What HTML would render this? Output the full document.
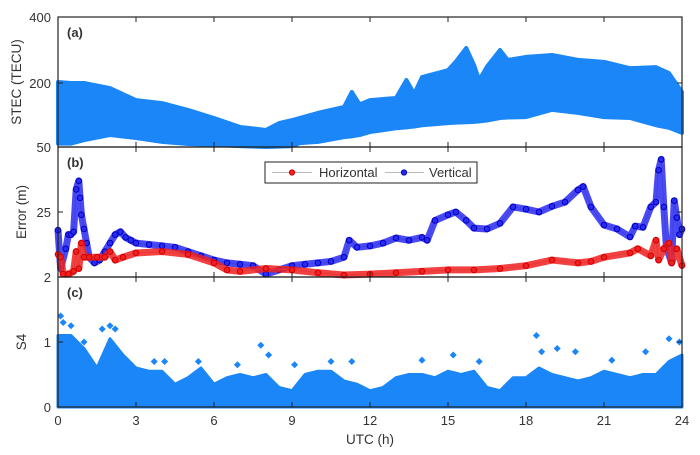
<!DOCTYPE html>
<html><head><meta charset="utf-8"><style>
html,body{margin:0;padding:0;background:#fff;width:700px;height:455px;overflow:hidden}
text{font-family:"Liberation Sans",sans-serif;fill:#333}
</style></head><body>
<svg id="chart" width="700" height="455" viewBox="0 0 700 455" xmlns="http://www.w3.org/2000/svg">
<g id="pa"></g>
<g id="pb"></g>
<g id="pc"></g>
<g id="ax"></g>
</svg>
<script>
// ---- data ----
const xTicks=[0,3,6,9,12,15,18,21,24];
// STEC envelope (TECU)
const stecT=[0,0.5,1,2,3,4,5,6,7,8,8.5,9,9.3,10,11,11.3,11.6,12,13,13.4,13.7,14,15,15.3,15.7,16,16.2,16.5,17,17.3,18,19,20,21,22,23,23.5,24];
const stecTop=[203,200,200,188,160,153,137,118,97,90,106,113,118,130,144,179,150,160,165,209,175,218,239,265,306,255,209,250,300,270,279,285,270,264,245,248,230,179];
const stecBot=[58,58,66,78,71,62,57,55,52,50,51,52,59,62,73,75,78,85,94,96,98,101,106,107,108,109,110,112,118,119,120,137,130,120,118,101,95,83];
// Error (m)
const vT=[0,0.1,0.3,0.4,0.5,0.6,0.7,0.8,0.85,0.9,1.0,1.1,1.2,1.4,1.6,1.8,2.0,2.2,2.4,2.6,2.8,3,3.5,4,4.5,5,5.5,6,6.5,7,7.5,8,8.5,9,9.5,10,10.5,11,11.2,11.5,12,12.5,13,13.5,14,14.2,14.5,15,15.3,15.7,16,16.5,17,17.5,18,18.5,19,19.5,20,20.2,20.5,21,21.5,22,22.2,22.5,22.8,23,23.1,23.2,23.3,23.4,23.6,23.7,23.8,23.9,24];
const vVal=[18.6,5,12,17,17,18,33,36,30,24,19,14,9,7,8,11,14,17,18,16,15,14,13.5,13,12.5,11,9.5,8,7,6.5,6,3,4.5,6,6.5,7,7.5,9,15,12.5,13,14,15.8,15,16,15,22,24,25,22,19.3,19,21,26.8,26,25,27,28.5,32.8,34,26.8,20.4,19,16.2,20,19.6,26.8,28.5,39.8,43.6,26.8,12.6,7,29,23,17,19];
const hT=[0,0.1,0.2,0.4,0.6,0.7,0.8,0.9,1.0,1.2,1.5,1.8,2.0,2.2,2.5,3,4,5,6,6.5,7,8,9,10,11,12,13,14,15,16,17,18,19,20,20.5,21,22,22.3,22.8,23,23.1,23.3,23.5,23.6,23.8,24];
const hVal=[10,9,3,3,4,11,5,14,9,9,9,9,11,8,9,10.5,11,10,7,4.5,4,5,4.5,3.5,2.7,3,3.5,4,4.5,4.5,5,6,8,7,7.5,9,10.5,12,9.5,15,8,12,14,7,12,6];
// S4
const s4T=[0,0.5,1,1.5,2,2.5,3,3.5,4,4.5,5,5.5,6,6.5,7,7.5,8,8.5,9,9.5,10,10.5,11,11.5,12,12.5,13,13.5,14,14.5,15,15.5,16,16.5,17,17.5,18,18.5,19,19.5,20,20.5,21,21.5,22,22.5,23,23.5,24];
const s4Env=[1.1,1.1,0.9,0.6,1.05,0.8,0.6,0.55,0.55,0.35,0.45,0.6,0.35,0.45,0.5,0.45,0.5,0.3,0.25,0.5,0.55,0.55,0.4,0.35,0.25,0.3,0.45,0.5,0.5,0.45,0.55,0.5,0.55,0.3,0.25,0.45,0.45,0.6,0.5,0.45,0.4,0.45,0.55,0.5,0.45,0.5,0.5,0.7,0.8];
const spikeT=[0.1,0.2,0.5,1.0,1.7,2.0,2.2,3.7,4.1,5.4,6.9,7.8,8.1,9.1,10.5,11.3,14.0,15.2,16.2,18.4,18.6,19.2,19.9,21.3,22.6,23.5,23.9];
const spikeV=[1.4,1.3,1.25,1.0,1.2,1.25,1.2,0.7,0.7,0.7,0.65,0.95,0.8,0.65,0.7,0.7,0.72,0.8,0.7,1.1,0.85,0.9,0.85,0.72,0.85,1.05,1.0];

// ---- scales ----
const X0=58,X1=682;
const x=t=>X0+(X1-X0)*t/24;
const yA=v=>v<=200?147-(v-50)*64/150:83-(v-200)*66/200;
const yB=v=>277-(v-2)/46*130;
const yC=v=>407-v/2*130;
const NS='http://www.w3.org/2000/svg';
function mk(tag,attrs,parent){const e=document.createElementNS(NS,tag);for(const k in attrs)e.setAttribute(k,attrs[k]);parent.appendChild(e);return e;}
const BLUE='#1a86f8';
const pa=document.getElementById('pa'),pb=document.getElementById('pb'),pc=document.getElementById('pc'),ax=document.getElementById('ax');

// panel a
let pts=stecT.map((t,i)=>x(t)+','+yA(stecTop[i]));
for(let i=stecT.length-1;i>=0;i--)pts.push(x(stecT[i])+','+yA(stecBot[i]));
let a=mk('polygon',{points:pts.join(' '),fill:BLUE,stroke:BLUE,'stroke-width':4,'stroke-linejoin':'round'},pa);



// panel b
function series(T,V,fill,stroke,name){
  const g=mk('g',{},pb);
  
  
  const p=T.map((t,i)=>x(t)+','+yB(V[i])).join(' ');
  mk('polyline',{points:p,fill:'none',stroke:'#bbb','stroke-width':1},g);
  mk('polyline',{points:p,fill:'none',stroke:fill,'stroke-width':7,'stroke-linejoin':'round','stroke-opacity':0.85},g);
  T.forEach((t,i)=>{const c=mk('circle',{cx:x(t),cy:yB(V[i]),r:2.8,fill:fill,stroke:stroke,'stroke-width':1},g);
    
    });
}
series(vT,vVal,'#2a2af0','#0000c0','vertical-series');
series(hT,hVal,'#f02020','#d00000','horizontal-series');

// legend
const lg=mk('g',{},pb);


mk('rect',{x:265,y:162,width:212,height:21,fill:'#fff',stroke:'#222','stroke-width':1},lg);
mk('line',{x1:272,y1:172.5,x2:312,y2:172.5,stroke:'#bbb'},lg);
mk('circle',{cx:292,cy:172.5,r:2.6,fill:'#f02020',stroke:'#d00000'},lg);
let t1=mk('text',{x:319,y:177,'font-size':13},lg);t1.textContent='Horizontal';


mk('line',{x1:385,y1:172.5,x2:424,y2:172.5,stroke:'#bbb'},lg);
mk('circle',{cx:404,cy:172.5,r:2.6,fill:'#2a2af0',stroke:'#0000c0'},lg);
let t2=mk('text',{x:429,y:177,'font-size':13},lg);t2.textContent='Vertical';



// panel c
let cp=[x(0)+','+yC(0)].concat(s4T.map((t,i)=>x(t)+','+yC(s4Env[i])));cp.push(x(24)+','+yC(0));
let c=mk('polygon',{points:cp.join(' '),fill:BLUE,stroke:BLUE,'stroke-width':3,'stroke-linejoin':'round'},pc);


spikeT.forEach((t,i)=>{const s=mk('rect',{x:x(t)-2.5,y:yC(spikeV[i])-2.5,width:5,height:5,fill:BLUE,transform:`rotate(45 ${x(t)} ${yC(spikeV[i])})`},pc);
  
  });

// axes frames and ticks
const panels=[[17,147],[147,277],[277,407]];
panels.forEach(([top,bot])=>{
  mk('rect',{x:X0,y:top,width:X1-X0,height:bot-top,fill:'none',stroke:'#222','stroke-width':1.2},ax);
  xTicks.forEach(t=>{mk('line',{x1:x(t),y1:bot,x2:x(t),y2:bot-5,stroke:'#222'},ax);mk('line',{x1:x(t),y1:top,x2:x(t),y2:top+5,stroke:'#222'},ax);});
});
function ylab(txt,y){const e=mk('text',{x:51,y:y+5,'font-size':13,'text-anchor':'end'},ax);e.textContent=txt;
  
  
  mk('line',{x1:X0,y1:y,x2:X0+5,y2:y,stroke:'#222'},ax);mk('line',{x1:X1,y1:y,x2:X1-5,y2:y,stroke:'#222'},ax);}
ylab('400',yA(400));ylab('200',yA(200));ylab('50',yA(50));
ylab('25',yB(25));ylab('2',yB(2));
ylab('1',yC(1));ylab('0',yC(0));
xTicks.forEach(t=>{const e=mk('text',{x:x(t),y:425,'font-size':13,'text-anchor':'middle'},ax);e.textContent=t;
  
  });
function title(txt,cx,cy,name,rot){const e=mk('text',{x:cx,y:cy,'font-size':13.5,'text-anchor':'middle',transform:rot?`rotate(-90 ${cx} ${cy})`:''},ax);e.textContent=txt;
  
  }
title('STEC (TECU)',21,82,'y-axis-title-stec',true);
title('Error (m)',26,212,'y-axis-title-error',true);
title('S4',26,342,'y-axis-title-s4',true);
title('UTC (h)',370,444,'x-axis-title',false);
[['(a)',37],['(b)',167],['(c)',297]].forEach(([s,y])=>{const e=mk('text',{x:67,y:y,'font-size':13,'font-weight':'bold'},ax);e.textContent=s;
  
  });
</script>
</body></html>
